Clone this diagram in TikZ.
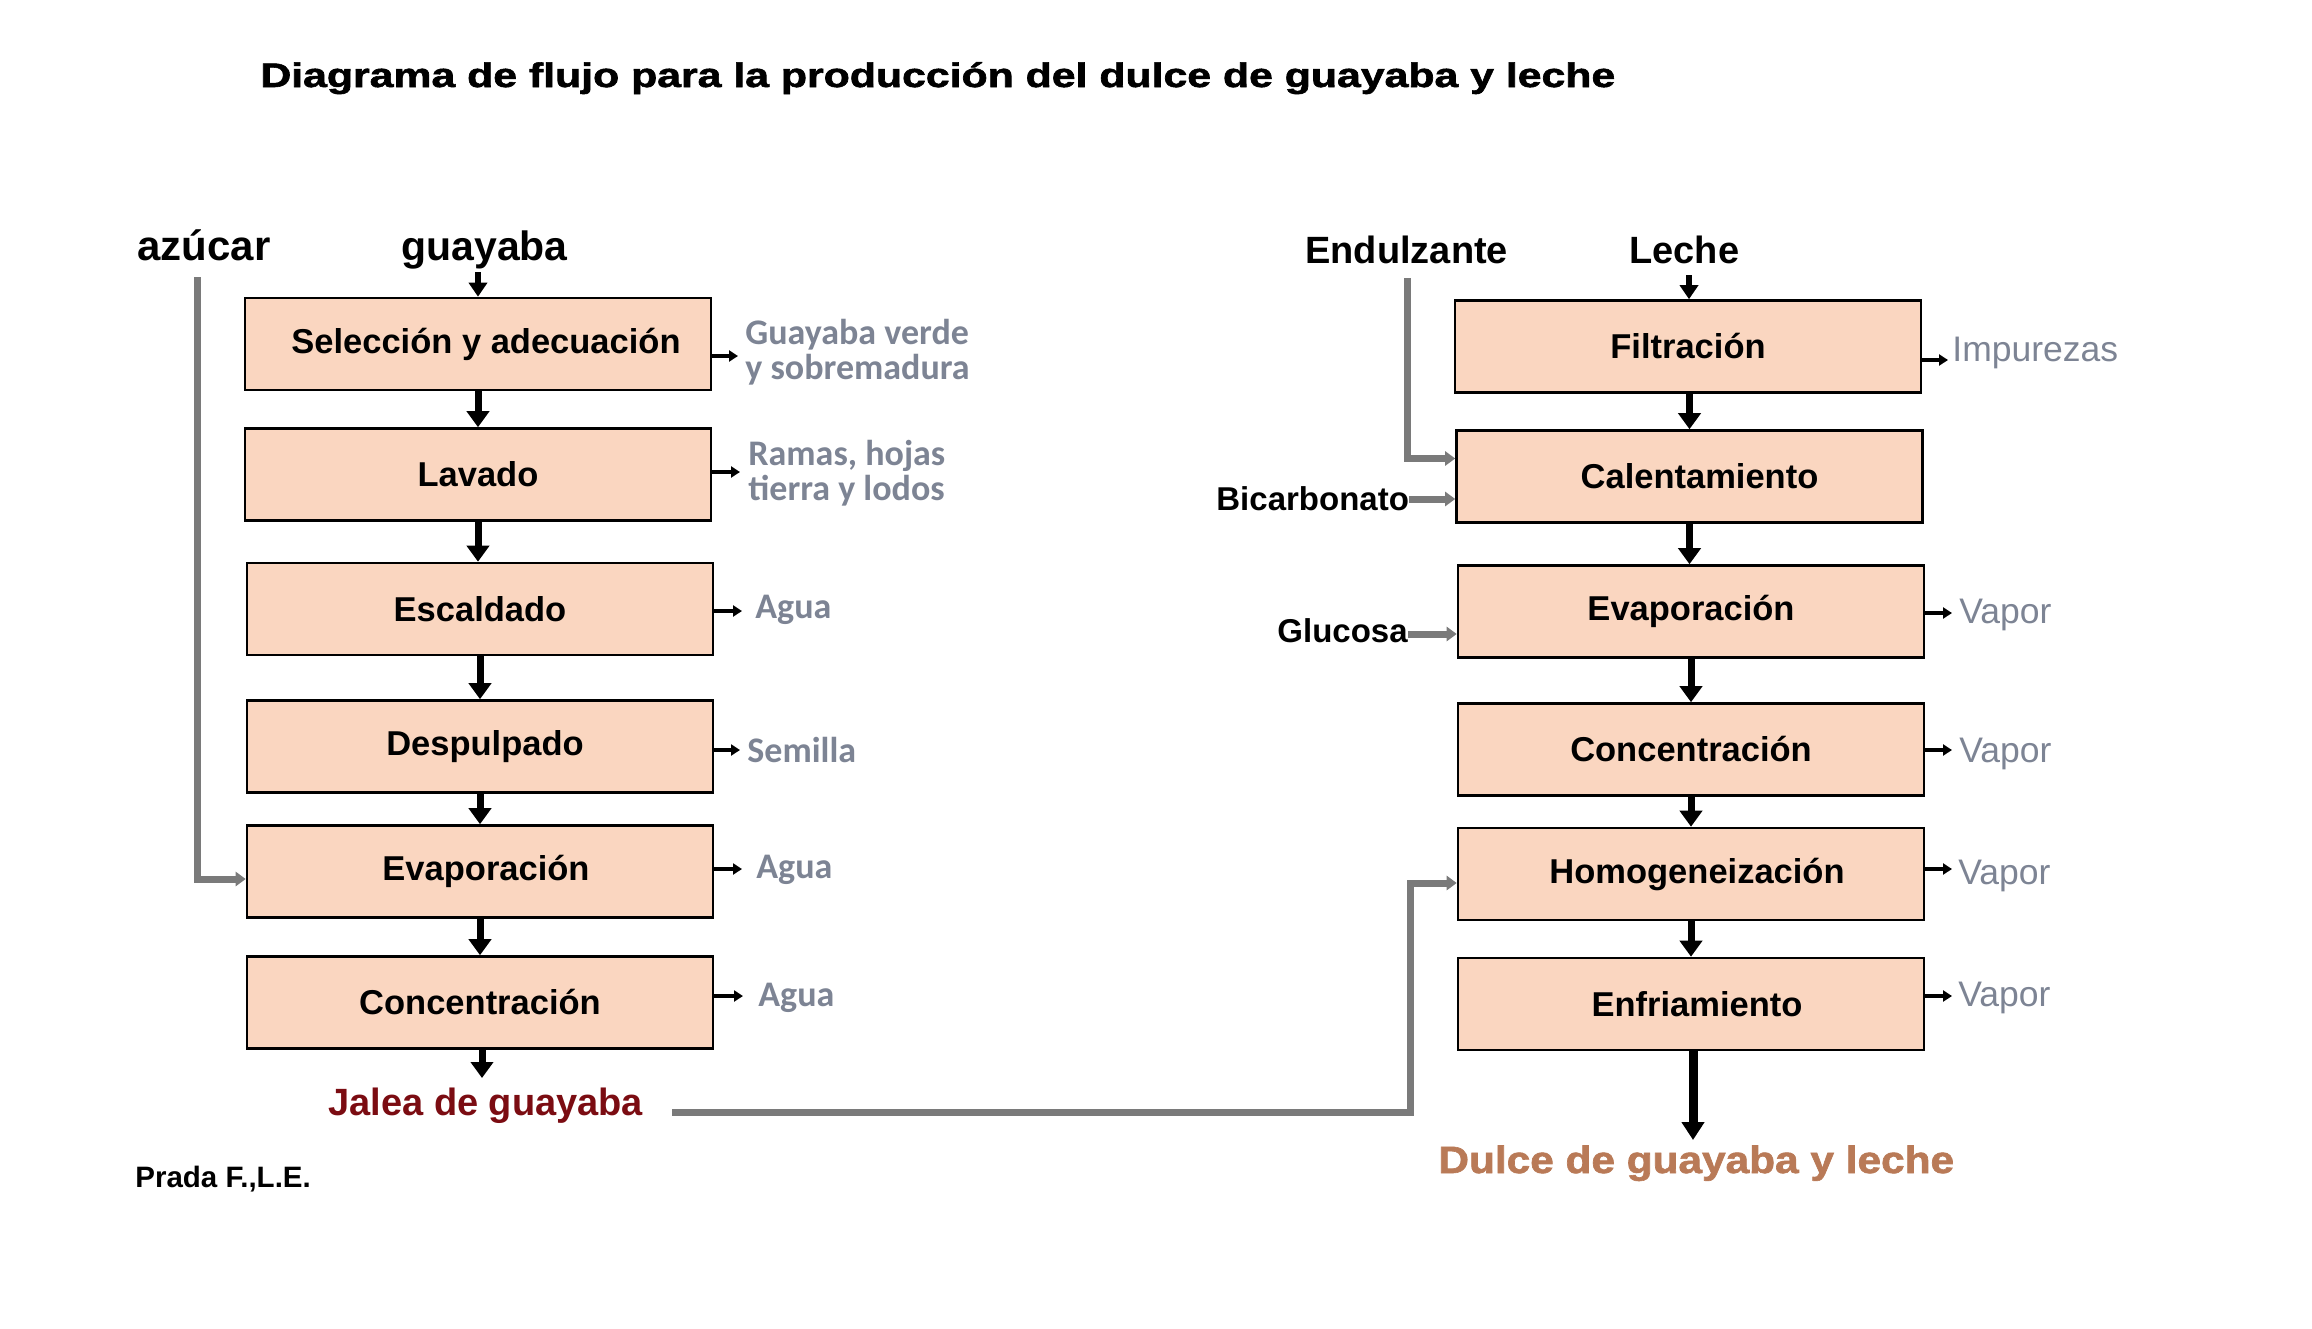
\documentclass[tikz,border=0pt]{standalone}
\usepackage{fontspec}
\setmainfont{Liberation Sans}
\newfontfamily\carl{Carlito}
\newfontfamily\heavy[FakeBold=1.6]{Liberation Sans Bold}
\usetikzlibrary{arrows.meta,calc}
\definecolor{boxfill}{HTML}{FAD6C0}
\definecolor{sidegray}{HTML}{7D8494}
\definecolor{linegray}{HTML}{7A7A7A}
\definecolor{jalea}{HTML}{7B0C12}
\definecolor{dulce}{HTML}{B97A57}
\begin{document}
\begin{tikzpicture}[x=0.5pt,y=-0.5pt,
  box/.style={draw=black, line width=1.3pt, fill=boxfill, minimum width=233pt, minimum height=46pt,
    inner sep=0pt, font=\fontsize{17.25}{20}\selectfont\bfseries, text=black},
  flow/.style={line width=3.5pt, -{Triangle[width=11pt,length=8pt]}},
  flowin/.style={line width=3pt, -{Triangle[width=9pt,length=7pt]}},
  outarr/.style={line width=1.6pt, -{Triangle[width=5.5pt,length=4.5pt]}},
  inarr/.style={draw=linegray, line width=3.5pt, -{Triangle[width=7pt,length=5pt]}},
  sidel/.style={inner sep=0pt, text=sidegray, font=\carl\bfseries\fontsize{18}{17.5}\selectfont, align=left},
  sider/.style={anchor=base west, inner sep=0pt, text=sidegray, font=\fontsize{17.75}{20}\selectfont},
  inlbl/.style={anchor=base west, inner sep=0pt, font=\bfseries}
]
\useasboundingbox (0,0) rectangle (2312,1328);

% title
\node[anchor=base west, inner sep=0pt, font=\heavy\fontsize{17}{20}\selectfont] (title) at (260,87)
  {\scalebox{1.258}[1]{Diagrama de flujo para la producción del dulce de guayaba y leche}};

% left column
\node[box] (sel) at (478,344) {\hspace{8pt}Selección y adecuación};
\node[box] (lav) at (478,474.5) {Lavado};
\node[box] (esc) at (480,609) {Escaldado};
\node[box] (des) at (480,746.5) {\hspace{5pt}Despulpado};
\node[box] (eva) at (480,871.5) {\hspace{6pt}Evaporación};
\node[box] (con) at (480,1002.5) {Concentración};

% right column
\node[box] (fil) at (1688,346.5) {Filtración};
\node[box] (cal) at (1689.5,476.5) {\hspace{10pt}Calentamiento};
\node[box] (evr) at (1691,611.5) {Evaporación};
\node[box] (cor) at (1691,749.5) {Concentración};
\node[box] (hom) at (1691,874) {\hspace{6pt}Homogeneización};
\node[box] (enf) at (1691,1004) {\hspace{6pt}Enfriamiento};

% input labels
\node[inlbl, font=\fontsize{21}{24}\selectfont\bfseries] (azu) at (137,260) {azúcar};
\node[inlbl, font=\fontsize{20.5}{24}\selectfont\bfseries] (guy) at (401,260) {guayaba};
\node[inlbl, font=\fontsize{19}{22}\selectfont\bfseries] (endu) at (1305,263) {Endulzante};
\node[inlbl, font=\fontsize{19}{22}\selectfont\bfseries] (lec) at (1629,263) {Leche};
\node[inlbl, font=\fontsize{16.5}{20}\selectfont\bfseries] (bic) at (1216,510) {Bicarbonato};
\node[inlbl, font=\fontsize{16.5}{20}\selectfont\bfseries] (glu) at (1277,642) {Glucosa};

% products
\node[inlbl, text=jalea, font=\fontsize{19}{22}\selectfont\bfseries] (jal) at (328,1115) {Jalea de guayaba};
\node[inlbl, text=dulce, font=\heavy\fontsize{19}{22}\selectfont] (dul) at (1438,1173)
  {\scalebox{1.115}[1]{Dulce de guayaba y leche}};
\node[inlbl, font=\fontsize{14.75}{18}\selectfont\bfseries] (aut) at (135,1187) {Prada F.,L.E.};

% left side outputs
\node[sidel, anchor=west] (o1) at (745,352) {Guayaba verde\\y sobremadura};
\node[sidel, anchor=west] (o2) at (748,473) {Ramas, hojas\\tierra y lodos};
\node[sidel, anchor=base west] (o3) at (755,618) {Agua};
\node[sidel, anchor=base west] (o4) at (747,762) {Semilla};
\node[sidel, anchor=base west] (o5) at (756,878) {Agua};
\node[sidel, anchor=base west] (o6) at (758,1006) {Agua};

\coordinate (a1) at (738,356);
\coordinate (a2) at (740,472);
\coordinate (a3) at (742,611);
\coordinate (a4) at (740,750);
\coordinate (a5) at (742,869);
\coordinate (a6) at (743,996);
\draw[outarr] (sel.east |- a1) -- (a1);
\draw[outarr] (lav.east |- a2) -- (a2);
\draw[outarr] (esc.east |- a3) -- (a3);
\draw[outarr] (des.east |- a4) -- (a4);
\draw[outarr] (eva.east |- a5) -- (a5);
\draw[outarr] (con.east |- a6) -- (a6);

% right side outputs
\node[sider] (p1) at (1952,361) {Impurezas};
\node[sider] (p2) at (1959,623) {Vapor};
\node[sider] (p3) at (1959,762) {Vapor};
\node[sider] (p4) at (1958,884) {Vapor};
\node[sider] (p5) at (1958,1006) {Vapor};

\coordinate (b1) at (1948,360);
\coordinate (b2) at (1952,613);
\coordinate (b3) at (1952,750);
\coordinate (b4) at (1952,869);
\coordinate (b5) at (1952,996);
\draw[outarr] (fil.east |- b1) -- (b1);
\draw[outarr] (evr.east |- b2) -- (b2);
\draw[outarr] (cor.east |- b3) -- (b3);
\draw[outarr] (hom.east |- b4) -- (b4);
\draw[outarr] (enf.east |- b5) -- (b5);

% main flow left
\coordinate (gin) at (478,272);
\draw[flowin] (gin) -- (sel.north);
\draw[flow] (sel.south) -- (lav.north);
\draw[flow] (lav.south) -- (lav.south |- esc.north);
\draw[flow] (esc.south) -- (des.north);
\draw[flow] (des.south) -- (eva.north);
\draw[flow] (eva.south) -- (con.north);
\coordinate (jin) at (482,1078);
\draw[flow] (con.south -| jin) -- (jin);

% main flow right
\coordinate (lin) at (1689,275);
\draw[flowin] (lin) -- (lin |- fil.north);
\draw[flow] (fil.south -| cal.south) -- (cal.north);
\draw[flow] (cal.south) -- (cal.south |- evr.north);
\draw[flow] (evr.south) -- (cor.north);
\draw[flow] (cor.south) -- (hom.north);
\draw[flow] (hom.south) -- (enf.north);
\coordinate (dout) at (1693,1140);
\draw[line width=4.5pt, -{Triangle[width=11pt,length=9pt]}] (enf.south -| dout) -- (dout);

% gray inputs
\coordinate (az1) at (197,277);
\draw[inarr] (az1) |- ($(eva.west)+(0,7.5)$);
\coordinate (en1) at (1407,278);
\draw[inarr] (en1) |- ($(cal.west)+(0,-18)$);
\coordinate (bicy) at ($(cal.west)+(0,22.5)$);
\draw[inarr] (bic.east |- bicy) -- (bicy);
\coordinate (gluy) at ($(evr.west)+(0,22.5)$);
\draw[inarr] (glu.east |- gluy) -- (gluy);
\coordinate (j1) at (672,1112);
\coordinate (j2) at (1410,1112);
\draw[inarr] (j1) -- (j2) |- ($(hom.west)+(0,9)$);
\end{tikzpicture}
\end{document}
